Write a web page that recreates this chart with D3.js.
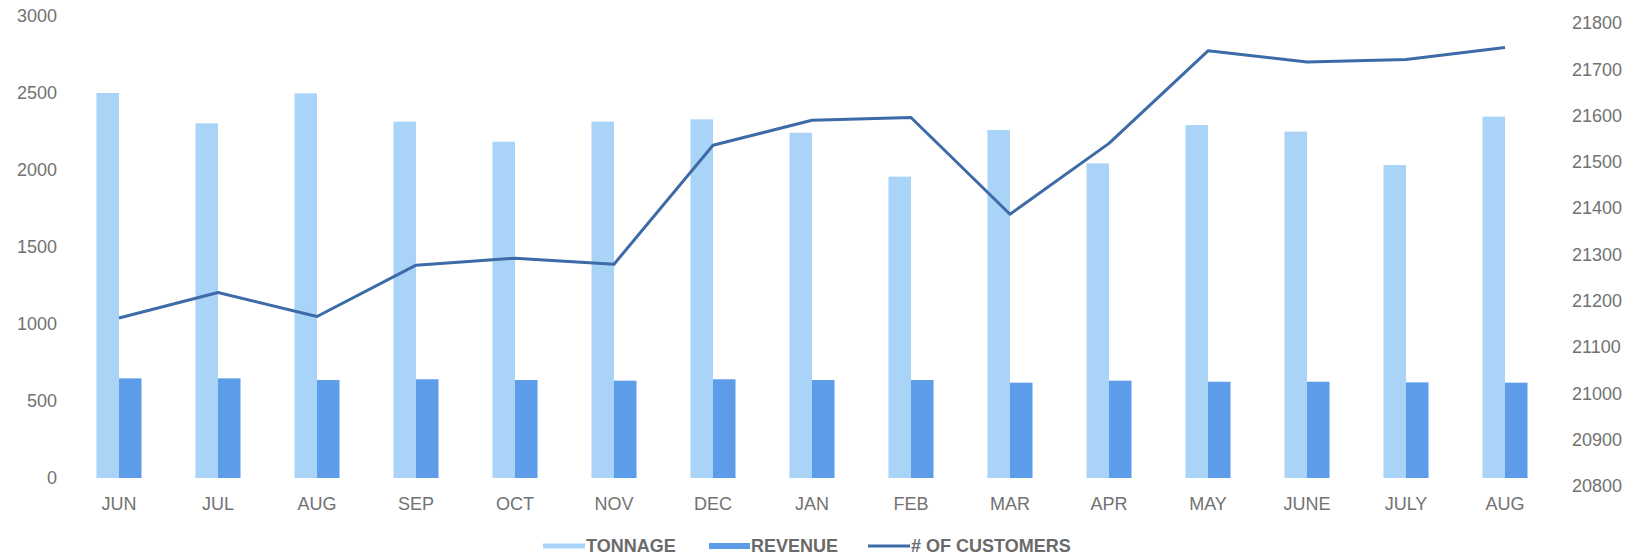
<!DOCTYPE html>
<html>
<head>
<meta charset="utf-8">
<script src="https://cdn.jsdelivr.net/npm/d3@7"></script>
<style>
  body { margin: 0; background: #fff; }
  svg { display: block; font-family: "Liberation Sans", Arial, sans-serif; }
  .tick text { fill: #727272; }
</style>
</head>
<body>
<svg></svg>
<script>
var months = ["JUN", "JUL", "AUG", "SEP", "OCT", "NOV", "DEC", "JAN", "FEB", "MAR", "APR", "MAY", "JUNE", "JULY", "AUG"];
var tonnage = [2500, 2303, 2498, 2314, 2184, 2314, 2329, 2242, 1957, 2260, 2043, 2292, 2249, 2032, 2346];
var revenue = [647, 647, 636, 641, 636, 632, 641, 636, 636, 619, 632, 625, 625, 621, 619];
var customers = [21163, 21218, 21166, 21277, 21292, 21279, 21536, 21590, 21596, 21387, 21540, 21740, 21716, 21721, 21747];
var leftTicks = [0, 500, 1000, 1500, 2000, 2500, 3000];
var rightTicks = [20800, 20900, 21000, 21100, 21200, 21300, 21400, 21500, 21600, 21700, 21800];
var seriesNames = ["TONNAGE", "REVENUE", "# OF CUSTOMERS"];

var width = 1639,
    height = 557;

var colors = {
    tonnage: "#aad3f8",
    revenue: "#5d9ce8",
    line: "#3d6ba8"
};

var svg = d3.select("svg")
    .attr("width", width)
    .attr("height", height);

// one band per month, two sub-bands for the bars
var x = d3.scaleBand()
    .domain(d3.range(months.length))
    .range([69.5, 1554.5])
    .paddingInner(0.545)
    .paddingOuter(0.2725);

var xSub = d3.scaleBand()
    .domain(["tonnage", "revenue"])
    .range([0, x.bandwidth()]);

var yLeft = d3.scaleLinear()
    .domain([0, 3000])
    .range([478, 16]);

var yRight = d3.scaleLinear()
    .domain([20800, 21800])
    .range([486, 23]);

var fmt = d3.format("d");

// axes, no lines, only labels
var leftAxis = svg.append("g")
    .attr("transform", "translate(57,0)")
    .call(d3.axisLeft(yLeft).tickValues(leftTicks).tickFormat(fmt).tickSize(0).tickPadding(0));
leftAxis.select(".domain").remove();
leftAxis.selectAll("text").attr("font-size", 18).attr("font-family", "Liberation Sans, Arial, sans-serif");

var rightAxis = svg.append("g")
    .attr("transform", "translate(1572,0)")
    .call(d3.axisRight(yRight).tickValues(rightTicks).tickFormat(fmt).tickSize(0).tickPadding(0));
rightAxis.select(".domain").remove();
rightAxis.selectAll("text").attr("font-size", 18).attr("font-family", "Liberation Sans, Arial, sans-serif");

var bottomAxis = svg.append("g")
    .attr("transform", "translate(0,492)")
    .call(d3.axisBottom(x).tickFormat(function(i) { return months[i]; }).tickSize(0).tickPadding(0));
bottomAxis.select(".domain").remove();
bottomAxis.selectAll("text")
    .attr("font-size", 18)
    .attr("font-family", "Liberation Sans, Arial, sans-serif")
    .attr("dy", "0.32em")
    .attr("y", 12);

// bars
svg.append("g").selectAll("rect")
    .data(tonnage)
    .enter()
    .append("rect")
    .attr("x", function(d, i) { return x(i) + xSub("tonnage"); })
    .attr("width", xSub.bandwidth())
    .attr("y", function(d) { return yLeft(d); })
    .attr("height", function(d) { return yLeft(0) - yLeft(d); })
    .attr("fill", colors.tonnage);

svg.append("g").selectAll("rect")
    .data(revenue)
    .enter()
    .append("rect")
    .attr("x", function(d, i) { return x(i) + xSub("revenue"); })
    .attr("width", xSub.bandwidth())
    .attr("y", function(d) { return yLeft(d); })
    .attr("height", function(d) { return yLeft(0) - yLeft(d); })
    .attr("fill", colors.revenue);

// customers line on right axis
var line = d3.line()
    .x(function(d, i) { return x(i) + x.bandwidth() / 2; })
    .y(function(d) { return yRight(d); });

svg.append("path")
    .datum(customers)
    .attr("fill", "none")
    .attr("stroke", colors.line)
    .attr("stroke-width", 3)
    .attr("stroke-linejoin", "round")
    .attr("d", line);

// legend
var legend = svg.append("g")
    .attr("font-size", 18)
    .attr("font-weight", "bold")
    .attr("fill", "#6a6a6a");

var legendItems = [
    { name: seriesNames[0], x0: 543, x1: 585, thick: 5, color: colors.tonnage },
    { name: seriesNames[1], x0: 709, x1: 750, thick: 6, color: colors.revenue },
    { name: seriesNames[2], x0: 868, x1: 910, thick: 3, color: colors.line }
];

legendItems.forEach(function(d) {
    legend.append("rect")
        .attr("x", d.x0)
        .attr("y", 546 - d.thick / 2)
        .attr("width", d.x1 - d.x0)
        .attr("height", d.thick)
        .attr("fill", d.color);
    legend.append("text")
        .attr("x", d.x1 + 1)
        .attr("y", 546)
        .attr("dy", "0.35em")
        .text(d.name);
});
</script>
</body>
</html>
